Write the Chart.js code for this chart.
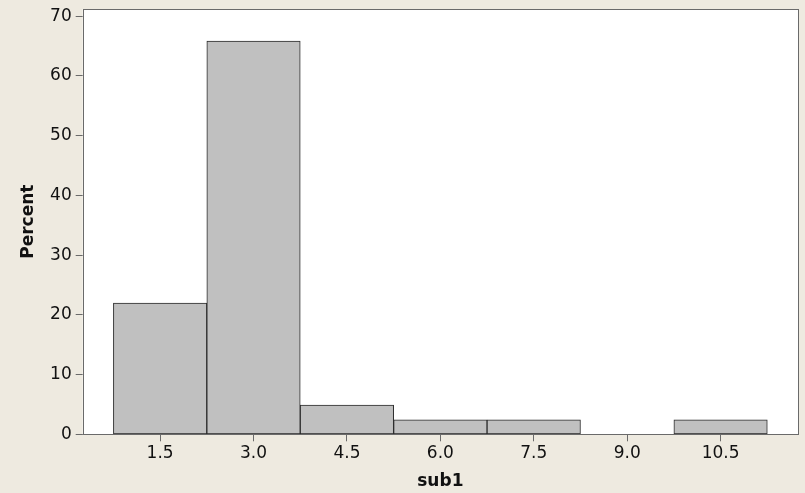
<!DOCTYPE html>
<html>
<head>
<meta charset="utf-8">
<script src="https://cdn.jsdelivr.net/npm/chart.js@4/dist/chart.umd.min.js"></script>
<style>
  html, body { margin: 0; padding: 0; background: #EEEAE0; overflow: hidden; }
  canvas { display: block; }
</style>
</head>
<body>
<canvas id="c" width="805" height="493"></canvas>
<script>
// Bin midpoints (sub1) and percent of observations per bin
const binMids = [1.5, 3.0, 4.5, 6.0, 7.5, 9.0, 10.5];
const percents = [21.95, 65.85, 4.88, 2.44, 2.44, 0, 2.44];
const xTicks = [1.5, 3.0, 4.5, 6.0, 7.5, 9.0, 10.5];
const yTicks = [0, 10, 20, 30, 40, 50, 60, 70];
const xTitle = 'sub1';
const yTitle = 'Percent';

const points = binMids.map((m, i) => ({ x: m, y: percents[i] }));

const frame = {
  id: 'frame',
  beforeDatasetsDraw(chart) {
    const { ctx, chartArea: a } = chart;
    ctx.save();
    ctx.fillStyle = '#ffffff';
    ctx.fillRect(a.left, a.top, a.right - a.left, a.bottom - a.top);
    ctx.restore();
  },
  afterDraw(chart) {
    const { ctx, chartArea: a } = chart;
    ctx.save();
    ctx.strokeStyle = '#6a6a6a';
    ctx.lineWidth = 1;
    ctx.strokeRect(Math.round(a.left) + 0.5, Math.round(a.top) + 0.5,
      Math.round(a.right - a.left), Math.round(a.bottom - a.top));
    ctx.restore();
  }
};

new Chart(document.getElementById('c'), {
  type: 'bar',
  data: {
    datasets: [{
      data: points,
      backgroundColor: '#C0C0C0',
      borderColor: '#2b2b2b',
      borderWidth: 1,
      borderSkipped: false,
      barPercentage: 1,
      categoryPercentage: 1
    }]
  },
  plugins: [frame],
  options: {
    responsive: false,
    animation: false,
    devicePixelRatio: 1,
    layout: { padding: { left: 0, right: 7, top: 9, bottom: 0 } },
    plugins: { legend: { display: false }, tooltip: { enabled: false } },
    scales: {
      x: {
        type: 'linear',
        min: 0.257,
        max: 11.743,
        offset: false,
        afterBuildTicks: s => { s.ticks = xTicks.map(v => ({ value: v })); },
        afterFit: s => { s.height = 58.7; s.paddingLeft = 0; s.paddingRight = 0; },
        grid: { display: true, drawOnChartArea: false, drawTicks: true, tickLength: 7, color: '#6a6a6a', offset: false },
        border: { display: false },
        ticks: {
          autoSkip: false,
          color: '#111',
          padding: 2,
          maxRotation: 0,
          font: { family: 'DejaVu Sans', size: 17 },
          callback: v => Number(v).toFixed(1)
        },
        title: {
          display: true, text: xTitle, color: '#111',
          font: { family: 'DejaVu Sans', size: 17, weight: 'bold' },
          padding: { top: 0, bottom: 1 }
        }
      },
      y: {
        min: 0,
        max: 71.2,
        afterBuildTicks: s => { s.ticks = yTicks.map(v => ({ value: v })); },
        afterFit: s => { s.width = 82.7; s.paddingTop = 0; s.paddingBottom = 0; },
        grid: { display: true, drawOnChartArea: false, drawTicks: true, tickLength: 7, color: '#6a6a6a' },
        border: { display: false },
        ticks: {
          autoSkip: false,
          color: '#111',
          padding: 4,
          font: { family: 'DejaVu Sans', size: 17 }
        },
        title: {
          display: true, text: yTitle, color: '#111',
          font: { family: 'DejaVu Sans', size: 17, weight: 'bold' },
          padding: { top: 18, bottom: 0 }
        }
      }
    }
  }
});
</script>
</body>
</html>
